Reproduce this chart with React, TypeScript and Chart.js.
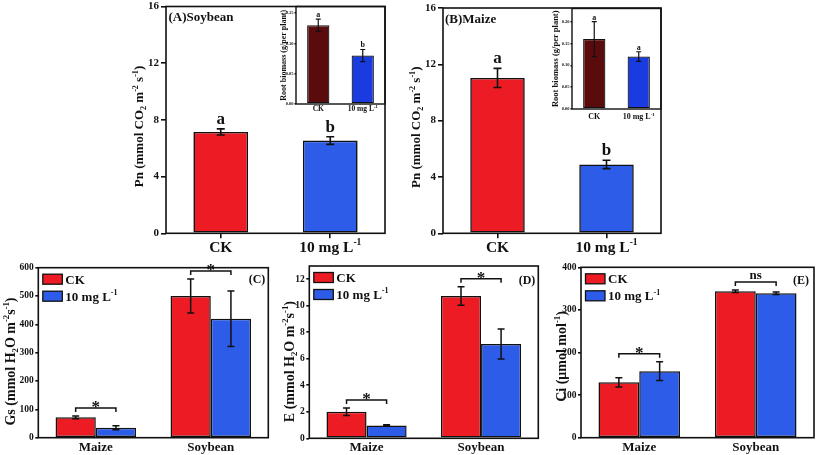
import React, { useEffect, useRef } from 'react';
import { Chart, registerables } from 'chart.js';

Chart.register(...registerables);

const SERIF = '"Liberation Serif", "Times New Roman", Times, serif';
const INK = '#111111';
const RED = '#ed1c24';
const BLUE = '#2d5de8';
const DARK_RED = '#5a0c0c';
const INSET_BLUE = '#1a3be0';

// ---------------- data ----------------
const treatments = ['CK', '10 mg L^{-1}'];
const pnTicks = [0, 4, 8, 12, 16];
const pnSoybean = [7.15, 6.54];
const pnSoybeanErr = [0.22, 0.27];
const pnSoybeanLetters = ['a', 'b'];
const pnMaize = [11.03, 4.89];
const pnMaizeErr = [0.68, 0.3];
const pnMaizeLetters = ['a', 'b'];

const rootSoybeanTicks = [0, 0.05, 0.1, 0.15];
const rootSoybean = [0.13, 0.08];
const rootSoybeanErr = [0.01, 0.01];
const rootSoybeanLetters = ['a', 'b'];
const rootMaizeTicks = [0, 0.05, 0.1, 0.15, 0.2];
const rootMaize = [0.16, 0.12];
const rootMaizeErr = [0.04, 0.011];
const rootMaizeLetters = ['a', 'a'];

const crops = ['Maize', 'Soybean'];
const seriesNames = ['CK', '10 mg L^{-1}'];
const gsTicks = [0, 100, 200, 300, 400, 500, 600];
const gsCK = [72, 500];
const gsCKErr = [5, 60];
const gs10 = [35, 420];
const gs10Err = [7, 98];
const gsSig = ['*', '*'];
const eTicks = [0, 2, 4, 6, 8, 10, 12];
const eCK = [2.0, 10.74];
const eCKErr = [0.28, 0.7];
const e10 = [0.97, 7.12];
const e10Err = [0.05, 1.13];
const eSig = ['*', '*'];
const ciTicks = [0, 100, 200, 300, 400];
const ciCK = [130, 344];
const ciCKErr = [11, 3];
const ci10 = [156, 339];
const ci10Err = [22, 3];
const ciSig = ['*', 'ns'];

// ---------------- rich text ----------------
type Seg = { t: string; k: 'n' | 'sup' | 'sub' };
function parseRich(s: string): Seg[] {
  const out: Seg[] = [];
  const re = /(\^\{[^}]*\}|_\{[^}]*\})/g;
  let last = 0;
  let m: RegExpExecArray | null;
  while ((m = re.exec(s))) {
    if (m.index > last) out.push({ t: s.slice(last, m.index), k: 'n' });
    out.push({ t: m[0].slice(2, -1), k: m[0][0] === '^' ? 'sup' : 'sub' });
    last = m.index + m[0].length;
  }
  if (last < s.length) out.push({ t: s.slice(last), k: 'n' });
  return out;
}
function drawRich(
  ctx: CanvasRenderingContext2D,
  s: string,
  x: number,
  cy: number,
  size: number,
  align: 'left' | 'center' | 'right',
  rotate = false
) {
  const segs = parseRich(s);
  const small = size * 0.62;
  const fN = `bold ${size}px ${SERIF}`;
  const fS = `bold ${small}px ${SERIF}`;
  let w = 0;
  const ws = segs.map((g) => {
    ctx.font = g.k === 'n' ? fN : fS;
    const mw = ctx.measureText(g.t).width;
    w += mw;
    return mw;
  });
  ctx.save();
  ctx.translate(x, cy);
  if (rotate) ctx.rotate(-Math.PI / 2);
  let px = align === 'center' ? -w / 2 : align === 'right' ? -w : 0;
  const base = size * 0.34;
  ctx.textBaseline = 'alphabetic';
  ctx.textAlign = 'left';
  ctx.fillStyle = INK;
  segs.forEach((g, i) => {
    ctx.font = g.k === 'n' ? fN : fS;
    const dy = g.k === 'sup' ? -size * 0.42 : g.k === 'sub' ? size * 0.2 : 0;
    ctx.fillText(g.t, px, base + dy);
    px += ws[i];
  });
  ctx.restore();
}

// ---------------- panel spec ----------------
type Series = { values: number[]; errs: number[]; colors: string | string[]; letters?: string[] };
type Spec = {
  area: [number, number, number, number];
  yw: number;
  xh: number;
  pad: number;
  categories: string[];
  series: Series[];
  yMax: number;
  yTicks: number[];
  decimals: number;
  tickFont: number;
  tickLen: number;
  tickPad: number;
  catPct: number;
  barPct: number;
  barBorder: number;
  axisW: number;
  xLabels: 'custom' | 'native';
  xLabelFont: number;
  xLabelOffset: number;
  xTickLen: number;
  yTitle: string;
  yTitleFont: number;
  yTitleX: number;
  yTitleDY: number;
  cap: number;
  errW: number;
  letterFont?: number;
  letterGap?: number;
  sig?: string[];
  legend?: string[];
  legendFont?: number;
  label?: { text: string; align: 'left' | 'right'; dx: number; dy: number; font: number };
};

function geom(sp: Spec) {
  const [l, t, r, b] = sp.area;
  const x = Math.floor(l - sp.yw - sp.pad);
  const y = Math.floor(t - sp.pad);
  const w = Math.ceil(r + sp.pad - x);
  const h = Math.ceil(b + sp.xh + sp.pad - y);
  return {
    x,
    y,
    w,
    h,
    padding: { left: l - sp.yw - x, top: t - y, right: x + w - r, bottom: y + h - b - sp.xh },
  };
}

function makePlugin(sp: Spec) {
  return {
    id: 'decor',
    afterDatasetsDraw(chart: any) {
      const ctx: CanvasRenderingContext2D = chart.ctx;
      const a = chart.chartArea;
      const ys = chart.scales.y;
      ctx.save();
      ctx.strokeStyle = INK;
      ctx.fillStyle = INK;
      // error bars + letters
      sp.series.forEach((s, di) => {
        const meta = chart.getDatasetMeta(di);
        meta.data.forEach((el: any, i: number) => {
          const v = s.values[i];
          const e = s.errs[i];
          const yt = ys.getPixelForValue(v + e);
          const yb = ys.getPixelForValue(v - e);
          ctx.lineWidth = sp.errW;
          ctx.beginPath();
          ctx.moveTo(el.x, yt);
          ctx.lineTo(el.x, yb);
          ctx.moveTo(el.x - sp.cap, yt);
          ctx.lineTo(el.x + sp.cap, yt);
          ctx.moveTo(el.x - sp.cap, yb);
          ctx.lineTo(el.x + sp.cap, yb);
          ctx.stroke();
          if (s.letters) {
            ctx.font = `bold ${sp.letterFont}px ${SERIF}`;
            ctx.textAlign = 'center';
            ctx.textBaseline = 'alphabetic';
            ctx.fillText(s.letters[i], el.x, yt - (sp.letterGap || 4));
          }
        });
      });
      // significance brackets
      if (sp.sig && sp.series.length > 1) {
        const m0 = chart.getDatasetMeta(0);
        const m1 = chart.getDatasetMeta(1);
        sp.sig.forEach((txt, i) => {
          const x1 = m0.data[i].x;
          const x2 = m1.data[i].x;
          const s0 = sp.series[0];
          const s1 = sp.series[1];
          const top = Math.min(
            ys.getPixelForValue(s0.values[i] + s0.errs[i]),
            ys.getPixelForValue(s1.values[i] + s1.errs[i])
          );
          const by = Math.max(top - 8, a.top + 1);
          ctx.lineWidth = 1.5;
          ctx.beginPath();
          ctx.moveTo(x1, by + 4);
          ctx.lineTo(x1, by);
          ctx.lineTo(x2, by);
          ctx.lineTo(x2, by + 4);
          ctx.stroke();
          ctx.textAlign = 'center';
          ctx.textBaseline = 'alphabetic';
          if (txt === '*') {
            ctx.font = `bold 17px ${SERIF}`;
            ctx.fillText(txt, (x1 + x2) / 2, by + 4);
          } else {
            ctx.font = `bold 13px ${SERIF}`;
            ctx.fillText(txt, (x1 + x2) / 2, by - 3);
          }
        });
      }
      // frame
      ctx.lineWidth = sp.axisW;
      ctx.strokeRect(a.left, a.top, a.right - a.left, a.bottom - a.top);
      ctx.restore();
    },
    afterDraw(chart: any) {
      const ctx: CanvasRenderingContext2D = chart.ctx;
      const a = chart.chartArea;
      const xs = chart.scales.x;
      ctx.save();
      if (sp.xLabels === 'custom') {
        sp.categories.forEach((c, i) => {
          drawRich(ctx, c, xs.getPixelForValue(i), a.bottom + sp.xLabelOffset, sp.xLabelFont, 'center');
        });
      }
      drawRich(
        ctx,
        sp.yTitle,
        a.left - sp.yTitleX,
        (a.top + a.bottom) / 2 + sp.yTitleDY,
        sp.yTitleFont,
        'center',
        true
      );
      if (sp.legend) {
        sp.legend.forEach((name, i) => {
          const bx = a.left + 4.5;
          const by = a.top + 6.5 + i * 17;
          const col = sp.series[i].colors as string;
          ctx.fillStyle = col;
          ctx.fillRect(bx, by, 19.5, 10);
          ctx.strokeStyle = INK;
          ctx.lineWidth = 1.3;
          ctx.strokeRect(bx, by, 19.5, 10);
          drawRich(ctx, name, bx + 22.5, by + 5, sp.legendFont || 13, 'left');
        });
      }
      if (sp.label) {
        const L = sp.label;
        const x = L.align === 'left' ? a.left + L.dx : a.right - L.dx;
        drawRich(ctx, L.text, x, a.top + L.dy, L.font, L.align);
      }
      ctx.restore();
    },
  };
}

function buildChart(canvas: HTMLCanvasElement, sp: Spec) {
  const g = geom(sp);
  const fmt = (v: number) => (sp.decimals > 0 ? Number(v).toFixed(sp.decimals) : String(v));
  return new Chart(canvas, {
    type: 'bar',
    data: {
      labels: sp.categories,
      datasets: sp.series.map((s) => ({
        data: s.values,
        backgroundColor: s.colors as any,
        borderColor: INK,
        borderWidth: sp.barBorder,
        borderSkipped: false,
        categoryPercentage: sp.catPct,
        barPercentage: sp.barPct,
      })),
    },
    options: {
      responsive: false,
      maintainAspectRatio: false,
      animation: false,
      devicePixelRatio: 1,
      layout: { padding: g.padding },
      plugins: {
        legend: { display: false },
        tooltip: { enabled: false },
        title: { display: false },
      },
      scales: {
        x: {
          type: 'category',
          offset: true,
          grid: {
            display: sp.xTickLen > 0,
            drawOnChartArea: false,
            drawTicks: true,
            tickLength: sp.xTickLen,
            offset: false,
            color: INK,
            lineWidth: sp.axisW,
          },
          border: { display: false },
          ticks: {
            display: sp.xLabels === 'native',
            color: INK,
            font: { family: SERIF, size: sp.xLabelFont, weight: 'bold' },
            padding: sp.xLabelOffset,
            maxRotation: 0,
            autoSkip: false,
          },
          afterFit: (s: any) => {
            s.height = sp.xh;
          },
        } as any,
        y: {
          type: 'linear',
          min: 0,
          max: sp.yMax,
          grid: {
            display: true,
            drawOnChartArea: false,
            drawTicks: true,
            tickLength: sp.tickLen,
            color: INK,
            lineWidth: sp.axisW,
          },
          border: { display: false },
          ticks: {
            color: INK,
            font: { family: SERIF, size: sp.tickFont, weight: 'bold' },
            padding: sp.tickPad,
            callback: (v: any) => fmt(v),
          },
          afterBuildTicks: (s: any) => {
            s.ticks = sp.yTicks.map((v) => ({ value: v }));
          },
          afterFit: (s: any) => {
            s.width = sp.yw;
          },
        } as any,
      },
    },
    plugins: [makePlugin(sp)],
  });
}

function Panel({ spec }: { spec: Spec }) {
  const ref = useRef<HTMLCanvasElement>(null);
  const g = geom(spec);
  useEffect(() => {
    const chart = buildChart(ref.current as HTMLCanvasElement, spec);
    return () => chart.destroy();
  }, [spec]);
  return (
    <canvas
      ref={ref}
      width={g.w}
      height={g.h}
      style={{ position: 'absolute', left: g.x, top: g.y, width: g.w, height: g.h }}
    />
  );
}

// ---------------- specs ----------------
const mainBase = {
  yw: 44,
  xh: 26,
  pad: 12,
  categories: treatments,
  yMax: 16,
  yTicks: pnTicks,
  decimals: 0,
  tickFont: 11,
  tickLen: 5,
  tickPad: 2,
  catPct: 1,
  barPct: 0.5,
  barBorder: 1.6,
  axisW: 1.6,
  xLabels: 'custom' as const,
  xLabelFont: 15.5,
  xLabelOffset: 13.4,
  xTickLen: 5,
  yTitle: 'Pn (mmol CO_{2} m^{-2} s^{-1})',
  yTitleFont: 13,
  yTitleX: 27,
  yTitleDY: 6.6,
  cap: 4,
  errW: 1.6,
  letterFont: 17,
  letterGap: 5,
};

const specA: Spec = {
  ...mainBase,
  area: [166, 6.5, 385, 233.3],
  series: [{ values: pnSoybean, errs: pnSoybeanErr, colors: [RED, BLUE], letters: pnSoybeanLetters }],
  label: { text: '(A)Soybean', align: 'left', dx: 2.5, dy: 10.5, font: 13 },
};
const specB: Spec = {
  ...mainBase,
  area: [443, 8, 661, 233.3],
  series: [{ values: pnMaize, errs: pnMaizeErr, colors: [RED, BLUE], letters: pnMaizeLetters }],
  label: { text: '(B)Maize', align: 'left', dx: 2, dy: 10.5, font: 13 },
};

const insetBase = {
  pad: 8,
  categories: treatments,
  decimals: 2,
  tickFont: 4.5,
  tickLen: 1.5,
  tickPad: 1,
  catPct: 1,
  barPct: 0.5,
  barBorder: 1.2,
  axisW: 1.4,
  xLabels: 'custom' as const,
  xTickLen: 0,
  yTitle: 'Root biomass (g/per plant)',
  cap: 2.5,
  errW: 1.2,
  letterFont: 8,
  letterGap: 2,
};
const specIA: Spec = {
  ...insetBase,
  area: [296, 6.5, 385, 104],
  yw: 22,
  xh: 14,
  yMax: 0.161,
  yTicks: rootSoybeanTicks,
  xLabelFont: 7.5,
  xLabelOffset: 4.8,
  yTitleFont: 8,
  yTitleX: 12.5,
  yTitleDY: 0,
  series: [{ values: rootSoybean, errs: rootSoybeanErr, colors: [DARK_RED, INSET_BLUE], letters: rootSoybeanLetters }],
};
const specIB: Spec = {
  ...insetBase,
  area: [572, 8.5, 661, 109],
  yw: 24,
  xh: 16,
  yMax: 0.23,
  yTicks: rootMaizeTicks,
  xLabelFont: 8,
  xLabelOffset: 7.7,
  yTitleFont: 8.5,
  yTitleX: 17,
  yTitleDY: 0,
  series: [{ values: rootMaize, errs: rootMaizeErr, colors: [DARK_RED, INSET_BLUE], letters: rootMaizeLetters }],
};

const lowBase = {
  xh: 20,
  pad: 12,
  categories: crops,
  decimals: 0,
  tickFont: 9.5,
  tickLen: 3,
  tickPad: 1.5,
  catPct: 0.7,
  barPct: 1,
  barBorder: 1.5,
  axisW: 1.6,
  xLabels: 'native' as const,
  xLabelFont: 13,
  xLabelOffset: 2,
  xTickLen: 0,
  yTitleFont: 14,
  cap: 3.5,
  errW: 1.5,
  legend: seriesNames,
  legendFont: 13,
};
const specC: Spec = {
  ...lowBase,
  area: [38.3, 267.7, 268.3, 437.7],
  yw: 38,
  yMax: 600,
  yTicks: gsTicks,
  yTitle: 'Gs (mmol H_{2}O m^{-2}s^{-1})',
  yTitleX: 28.3,
  yTitleDY: 8.8,
  series: [
    { values: gsCK, errs: gsCKErr, colors: RED },
    { values: gs10, errs: gs10Err, colors: BLUE },
  ],
  sig: gsSig,
  label: { text: '(C)', align: 'right', dx: 3, dy: 11.6, font: 12 },
};
const specD: Spec = {
  ...lowBase,
  area: [309.3, 266, 538.3, 438.3],
  yw: 30,
  yMax: 13,
  yTicks: eTicks,
  yTitle: 'E (mmol H_{2}O m^{-2}s^{-1})',
  yTitleX: 20.3,
  yTitleDY: 9.5,
  series: [
    { values: eCK, errs: eCKErr, colors: RED },
    { values: e10, errs: e10Err, colors: BLUE },
  ],
  sig: eSig,
  label: { text: '(D)', align: 'right', dx: 3, dy: 14, font: 12 },
};
const specE: Spec = {
  ...lowBase,
  area: [581, 267.3, 814, 437.7],
  yw: 30,
  yMax: 400,
  yTicks: ciTicks,
  yTitle: 'Ci (μmol mol^{-1})',
  yTitleX: 20,
  yTitleDY: 4,
  series: [
    { values: ciCK, errs: ciCKErr, colors: RED },
    { values: ci10, errs: ci10Err, colors: BLUE },
  ],
  sig: ciSig,
  label: { text: '(E)', align: 'right', dx: 5, dy: 13, font: 12 },
};

export default function App() {
  return (
    <div
      style={{
        position: 'absolute',
        left: 0,
        top: 0,
        width: 817,
        height: 455,
        overflow: 'hidden',
        background: '#ffffff',
      }}
    >
      <Panel spec={specA} />
      <Panel spec={specB} />
      <Panel spec={specC} />
      <Panel spec={specD} />
      <Panel spec={specE} />
      <Panel spec={specIA} />
      <Panel spec={specIB} />
    </div>
  );
}
